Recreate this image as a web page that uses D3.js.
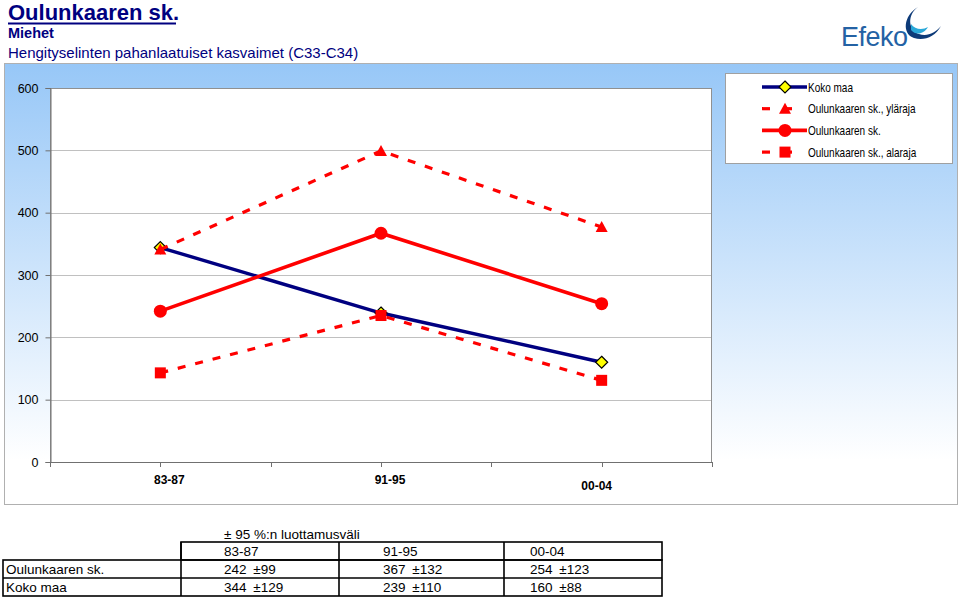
<!DOCTYPE html>
<html><head><meta charset="utf-8">
<script src="https://cdn.jsdelivr.net/npm/d3@7/dist/d3.min.js"></script>
<style>body{margin:0;background:#fff}svg{display:block}</style>
</head><body>
<svg id="c" width="960" height="597"></svg>
<script>
const categories = ["83-87", "91-95", "00-04"];
const kokoMaa = [344, 239, 160];
const oulunkaaren = [242, 367, 254];
const ciOulu = [99, 132, 123];
const ciKoko = [129, 110, 88];
const ylaraja = [341, 499, 377];
const alaraja = [143, 235, 131];
const yTicks = [0, 100, 200, 300, 400, 500, 600];
const seriesNames = ["Koko maa", "Oulunkaaren sk., yläraja", "Oulunkaaren sk.", "Oulunkaaren sk., alaraja"];

const svg = d3.select("#c");
const FONT = "Liberation Sans, Arial, sans-serif";
const NAVY = "#000080", RED = "#ff0000";

const defs = svg.append("defs");
const g1 = defs.append("linearGradient").attr("id", "bg").attr("x1", 0).attr("y1", 0).attr("x2", 0).attr("y2", 1);
g1.append("stop").attr("offset", "0%").attr("stop-color", "#97c7f7");
g1.append("stop").attr("offset", "90%").attr("stop-color", "#ffffff");

// titles
svg.append("text").attr("x", 8).attr("y", 20).attr("font-family", FONT).attr("font-weight", "bold")
  .attr("font-size", 22).attr("fill", NAVY).text("Oulunkaaren sk.");
svg.append("line").attr("x1", 8).attr("x2", 176).attr("y1", 23.5).attr("y2", 23.5).attr("stroke", NAVY).attr("stroke-width", 2);
svg.append("text").attr("x", 8).attr("y", 38).attr("font-family", FONT).attr("font-weight", "bold")
  .attr("font-size", 14.5).attr("fill", NAVY).text("Miehet");
svg.append("text").attr("x", 8).attr("y", 58).attr("font-family", FONT)
  .attr("font-size", 15).attr("fill", NAVY).text("Hengityselinten pahanlaatuiset kasvaimet (C33-C34)");

// logo
const logo = svg.append("g");
logo.append("text").attr("x", 841).attr("y", 46).attr("font-family", FONT).attr("font-size", 27)
  .attr("fill", "#2462a4").attr("letter-spacing", -0.5).text("Efeko");
logo.append("path").attr("d", "M918,7 C907,15 908,30 919,34 C927,37 935,33 941,26 C935,37 924,41 914,38 C902,34 903,16 918,7 Z")
  .attr("fill", "#0d3a78");
logo.append("path").attr("d", "M911,24 C915,30 923,30 928,27 C924,34 916,36 911,30 Z").attr("fill", "#2aa8d8");

// chart area
svg.append("rect").attr("x", 4.5).attr("y", 63.5).attr("width", 953).attr("height", 441)
  .attr("fill", "url(#bg)").attr("stroke", "#b0b0b0");

const L = 50, R = 712, T = 88, B = 462;
const x = d3.scalePoint().domain(categories).range([L, R]).padding(0.5);
const y = d3.scaleLinear().domain([0, 600]).range([B, T]);

svg.append("rect").attr("x", L).attr("y", T).attr("width", R - L).attr("height", B - T).attr("fill", "#fff");

svg.append("g").selectAll("line").data(yTicks.filter(d => d > 0)).join("line")
  .attr("x1", L).attr("x2", R).attr("y1", d => Math.round(y(d)) + 0.5).attr("y2", d => Math.round(y(d)) + 0.5)
  .attr("stroke", "#c0c0c0");

svg.append("rect").attr("x", L + 0.5).attr("y", T + 0.5).attr("width", R - L - 1).attr("height", B - T)
  .attr("fill", "none").attr("stroke", "#909090");

// y axis
const yAxis = d3.axisLeft(y).tickValues(yTicks).tickSize(5).tickPadding(7);
const ya = svg.append("g").attr("transform", `translate(${L + 0.5},0)`).call(yAxis);
ya.select(".domain").attr("stroke", "#707070");
ya.selectAll(".tick line").attr("stroke", "#707070");
ya.selectAll(".tick text").attr("font-family", FONT).attr("font-size", 12.5).attr("fill", "#000");

// x axis
const step = x.step();
const xTickPos = [];
for (let i = 0; i <= categories.length * 2; i++) xTickPos.push(L + i * step / 2);
const labelShift = [9, 9, -5];
const labelY = [484, 484, 490];
const xa = svg.append("g");
xa.append("line").attr("x1", L).attr("x2", R).attr("y1", B + 0.5).attr("y2", B + 0.5).attr("stroke", "#707070");
xa.selectAll("line.t").data(xTickPos).join("line").attr("class", "t")
  .attr("x1", d => Math.round(d) + 0.5).attr("x2", d => Math.round(d) + 0.5).attr("y1", B).attr("y2", B + 5)
  .attr("stroke", "#707070");
xa.selectAll("text").data(categories).join("text")
  .attr("x", (d, i) => x(d) + labelShift[i]).attr("y", (d, i) => labelY[i])
  .attr("text-anchor", "middle").attr("font-family", FONT).attr("font-weight", "bold").attr("font-size", 12)
  .text(d => d);

// series
const line = d3.line().x((d, i) => x(categories[i])).y(d => y(d));
const series = [
  {vals: kokoMaa, color: NAVY, width: 3.4, dash: null, marker: "diamond"},
  {vals: ylaraja, color: RED, width: 3.2, dash: "8,10", marker: "triangle"},
  {vals: oulunkaaren, color: RED, width: 3.6, dash: null, marker: "circle"},
  {vals: alaraja, color: RED, width: 3.2, dash: "8,10", marker: "square"}
];
function drawMarker(g, type, cx, cy, color) {
  if (type === "diamond") {
    g.append("path").attr("d", `M${cx},${cy - 6}L${cx + 6},${cy}L${cx},${cy + 6}L${cx - 6},${cy}Z`)
      .attr("fill", "#ffff00").attr("stroke", "#000").attr("stroke-width", 1.2);
  } else if (type === "triangle") {
    g.append("path").attr("d", `M${cx},${cy - 6}L${cx + 6},${cy + 5}L${cx - 6},${cy + 5}Z`).attr("fill", color);
  } else if (type === "circle") {
    g.append("circle").attr("cx", cx).attr("cy", cy).attr("r", 6.5).attr("fill", color);
  } else {
    g.append("rect").attr("x", cx - 5.5).attr("y", cy - 5.5).attr("width", 11).attr("height", 11).attr("fill", color);
  }
}
series.forEach(s => {
  const g = svg.append("g");
  g.append("path").attr("d", line(s.vals)).attr("fill", "none").attr("stroke", s.color)
    .attr("stroke-width", s.width).attr("stroke-dasharray", s.dash);
  s.vals.forEach((v, i) => drawMarker(g, s.marker, x(categories[i]), y(v), s.color));
});

// legend
svg.append("rect").attr("x", 725.5).attr("y", 73.5).attr("width", 227).attr("height", 90)
  .attr("fill", "#fff").attr("stroke", "#a0a0a0");
series.forEach((s, i) => {
  const ly = 87 + i * 21.7;
  const g = svg.append("g");
  if (s.dash) {
    g.append("line").attr("x1", 762).attr("x2", 770).attr("y1", ly).attr("y2", ly).attr("stroke", s.color).attr("stroke-width", s.width);
    g.append("line").attr("x1", 785).attr("x2", 792).attr("y1", ly).attr("y2", ly).attr("stroke", s.color).attr("stroke-width", s.width);
  } else {
    g.append("line").attr("x1", 762).attr("x2", 807).attr("y1", ly).attr("y2", ly).attr("stroke", s.color).attr("stroke-width", s.width);
  }
  drawMarker(g, s.marker, 785, ly, s.color);
  g.append("text").attr("transform", `translate(808,${ly + 4.5}) scale(0.8,1)`)
    .attr("font-family", FONT).attr("font-size", 12.5)
    .text(seriesNames[i]);
});

// table
const tg = svg.append("g").attr("font-family", FONT).attr("font-size", 13.5).attr("fill", "#000");
tg.append("text").attr("x", 224).attr("y", 539).text("± 95 %:n luottamusväli");
const colX = [3, 181, 339, 504, 662];
const textX = [6, 224, 383, 530];
const rowY = [542, 560, 578, 596];
tg.append("rect").attr("x", colX[1]).attr("y", rowY[0]).attr("width", colX[4] - colX[1]).attr("height", rowY[1] - rowY[0])
  .attr("fill", "none").attr("stroke", "#000").attr("stroke-width", 1.6);
tg.append("rect").attr("x", colX[0]).attr("y", rowY[1]).attr("width", colX[4] - colX[0]).attr("height", rowY[3] - rowY[1])
  .attr("fill", "none").attr("stroke", "#000").attr("stroke-width", 1.6);
tg.append("line").attr("x1", colX[0]).attr("x2", colX[4]).attr("y1", rowY[2]).attr("y2", rowY[2]).attr("stroke", "#000").attr("stroke-width", 1.6);
[1, 2, 3].forEach(c => tg.append("line").attr("x1", colX[c]).attr("x2", colX[c]).attr("y1", rowY[0]).attr("y2", rowY[3])
  .attr("stroke", "#000").attr("stroke-width", 1.6));
categories.forEach((c, i) => tg.append("text").attr("x", textX[i + 1]).attr("y", rowY[0] + 14).text(c));
const rows = [["Oulunkaaren sk.", oulunkaaren, ciOulu], ["Koko maa", kokoMaa, ciKoko]];
rows.forEach((r, ri) => {
  tg.append("text").attr("x", textX[0]).attr("y", rowY[ri + 1] + 14).text(r[0]);
  r[1].forEach((v, i) => tg.append("text").attr("x", textX[i + 1]).attr("y", rowY[ri + 1] + 14).text(`${v}\u2002±${r[2][i]}`));
});
</script>
</body></html>
